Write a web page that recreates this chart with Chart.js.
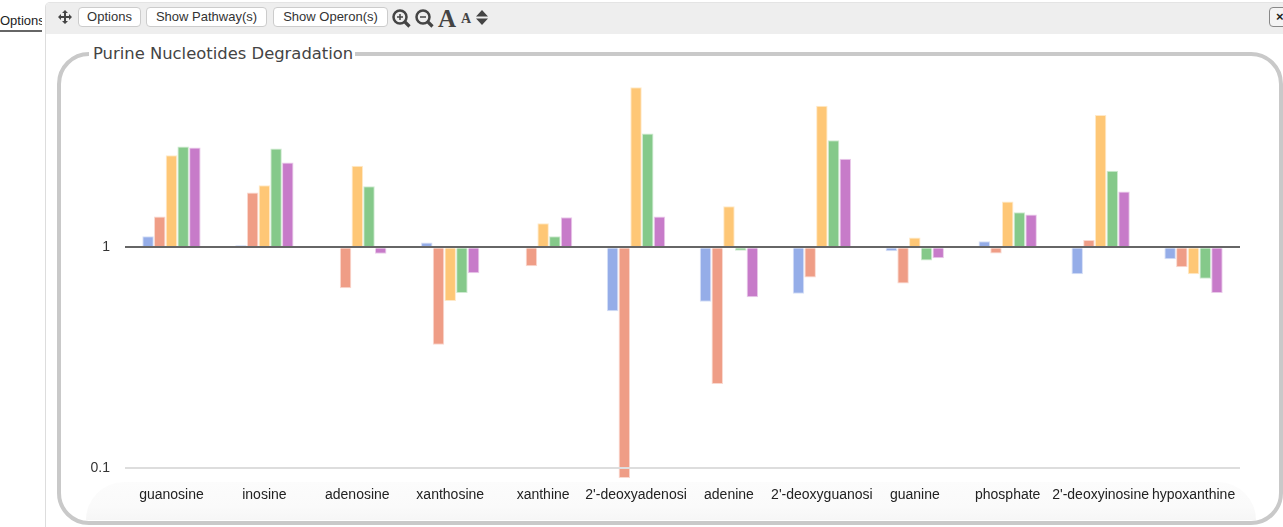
<!DOCTYPE html>
<html>
<head>
<meta charset="utf-8">
<script src="https://cdn.jsdelivr.net/npm/chart.js@4"></script>
<style>
html, body { margin: 0; height: 100%; overflow: hidden; background: #fff; }
body { font-family: "Liberation Sans", sans-serif; color: #333; }
#tab { position: absolute; left: 0; top: 13px; width: 42px; height: 17px; overflow: hidden; font-size: 13px; line-height: 16px; border-bottom: 2px solid #666; white-space: nowrap; color: #222; }
#panel { position: absolute; left: 45px; top: 2px; right: -10px; bottom: -10px; border-left: 1px solid #ddd; border-top: 1px solid #e4e4e4; border-top-left-radius: 5px; }
#toolbar { position: absolute; left: 46px; top: 3px; right: 0; height: 31px; background: #eee; border-top-left-radius: 4px; }
.btn { position: absolute; top: 7px; height: 18px; font-size: 13px; line-height: 18px; text-align: center; background: #fff; border: 1px solid #ccc; border-radius: 4px; color: #333; white-space: nowrap; }
#close { left: 1269px; top: 7px; width: 24px; height: 18px; text-align: left; padding-left: 6px; background: #f4f4f4; border-color: #888; font-weight: bold; color: #222; overflow: hidden; }
.icon { position: absolute; left: 0; top: 0; }
.letter { position: absolute; font-family: "Liberation Serif", serif; font-weight: bold; color: #444; line-height: 1; }
#frame { position: absolute; left: 57px; top: 52px; width: 1218px; height: 465px; border: 4px solid #c9c9c9; border-radius: 32px; }
#band { position: absolute; left: 86px; top: 482px; width: 1170px; height: 38px; background: linear-gradient(#fcfcfc, #fafafa 65%, #f6f6f6); border-radius: 38px 38px 0 0; }
#title { position: absolute; left: 89px; top: 44px; padding: 0 2px 0 4px; background: #fff; font-family: "DejaVu Sans", sans-serif; font-size: 16.4px; line-height: 20px; color: #444; white-space: nowrap; }
#chart { position: absolute; left: 0; top: 0; }
</style>
</head>
<body>
<div id="tab">Options</div>
<div id="panel"></div>
<div id="toolbar"></div>
<div class="btn" style="left:78px;width:61px">Options</div>
<div class="btn" style="left:146px;width:119px">Show Pathway(s)</div>
<div class="btn" style="left:273px;width:113px">Show Operon(s)</div>
<div class="btn" id="close">×</div>
<svg class="icon" width="500" height="36">
  <g fill="#444" stroke="none">
    <path d="M65 10l3 3h-2v3h3v-2l3 3-3 3v-2h-3v3h2l-3 3-3-3h2v-3h-3v2l-3-3 3-3v2h3v-3h-2z"/>
    <path d="M476 16.5l6-6.5 6 6.5zM476 18.5l6 6.5 6-6.5z"/>
  </g>
  <g fill="none" stroke="#444">
    <circle cx="400" cy="17" r="6.5" stroke-width="2.5"/>
    <path d="M405 22l4.5 4.5" stroke-width="3.2"/>
    <path d="M397 17h6M400 14v6" stroke-width="1.5"/>
    <circle cx="423" cy="17" r="6.5" stroke-width="2.5"/>
    <path d="M428 22l4.5 4.5" stroke-width="3.2"/>
    <path d="M420 17h6" stroke-width="1.5"/>
  </g>
</svg>
<div class="letter" style="left:438px;top:6px;font-size:25px">A</div>
<div class="letter" style="left:461px;top:12px;font-size:14px">A</div>
<div id="frame"></div>
<div id="band"></div>
<div id="title">Purine Nucleotides Degradation</div>
<canvas id="chart" width="1283" height="527"></canvas>
<script>
const categories = ["guanosine", "inosine", "adenosine", "xanthosine", "xanthine", "2'-deoxyadenosi", "adenine", "2'-deoxyguanosi", "guanine", "phosphate", "2'-deoxyinosine", "hypoxanthine"];
const series1 = [1.12, 1.02, null, 1.05, null, 0.513, 0.566, 0.615, 0.959, 1.064, 0.755, 0.882];
const series2 = [1.377, 1.77, 0.652, 0.361, 0.82, 0.09, 0.24, 0.729, 0.685, 0.936, 1.079, 0.812];
const series3 = [2.61, 1.91, 2.34, 0.57, 1.284, 5.31, 1.533, 4.38, 1.106, 1.61, 3.97, 0.755];
const series4 = [2.86, 2.8, 1.89, 0.621, 1.12, 3.28, 0.965, 3.05, 0.871, 1.44, 2.22, 0.719];
const series5 = [2.83, 2.42, 0.933, 0.763, 1.367, 1.377, 0.594, 2.52, 0.892, 1.406, 1.79, 0.621];
const yTicks = [0.1, 1];

function barSet(data, fill, edge) {
    return {
        data: data,
        base: 1,
        backgroundColor: fill,
        borderColor: edge,
        borderWidth: 1,
        categoryPercentage: 0.63,
        barPercentage: 0.98
    };
}

new Chart(document.getElementById("chart"), {
    type: "bar",
    data: {
        labels: categories,
        datasets: [
            barSet(series1, "#95ade8", "rgba(149,173,232,0.4)"),
            barSet(series2, "#ef9d86", "rgba(239,157,134,0.4)"),
            barSet(series3, "#fec776", "rgba(254,199,118,0.4)"),
            barSet(series4, "#85c98a", "rgba(133,201,138,0.4)"),
            barSet(series5, "#c77bc9", "rgba(199,123,201,0.4)")
        ]
    },
    options: {
        responsive: false,
        animation: false,
        layout: { padding: { left: 90, right: 43, top: 75.5, bottom: 9 } },
        plugins: { legend: { display: false }, tooltip: { enabled: false } },
        scales: {
            x: {
                grid: { display: false },
                border: { display: false },
                afterFit: (scale) => { scale.height = 40; },
                ticks: {
                    color: "#222",
                    font: { family: "'Liberation Sans'", size: 14 },
                    autoSkip: false,
                    maxRotation: 0,
                    padding: 1
                }
            },
            y: {
                type: "logarithmic",
                min: 0.09,
                max: 6,
                afterFit: (scale) => { scale.width = 35; },
                afterBuildTicks: (scale) => { scale.ticks = yTicks.map((v) => ({ value: v })); },
                border: { display: false },
                grid: {
                    z: 1,
                    drawTicks: false,
                    color: (ctx) => ctx.tick && ctx.tick.value === 1 ? "#666" : "#ddd",
                    lineWidth: 2
                },
                ticks: {
                    color: "#333",
                    font: { family: "'Liberation Sans'", size: 14 },
                    padding: 15,
                    callback: (v) => String(v)
                }
            }
        }
    }
});
</script>
</body>
</html>
